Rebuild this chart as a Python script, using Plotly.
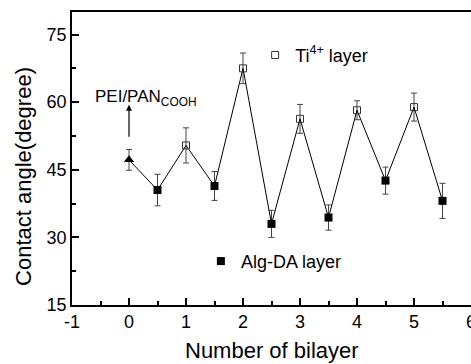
import plotly.graph_objects as go

# Data
x_base = [0.0]
y_base = [47.2]
e_base = [2.3]

x_ti = [1, 2, 3, 4, 5]
y_ti = [50.4, 67.5, 56.3, 58.2, 58.9]
e_ti = [3.9, 3.4, 3.2, 2.1, 3.1]

x_alg = [0.5, 1.5, 2.5, 3.5, 4.5, 5.5]
y_alg = [40.5, 41.4, 33.0, 34.4, 42.6, 38.1]
e_alg = [3.5, 3.2, 3.0, 2.8, 3.0, 3.9]

x_all = [0, 0.5, 1, 1.5, 2, 2.5, 3, 3.5, 4, 4.5, 5, 5.5]
y_all = [47.2, 40.5, 50.4, 41.4, 67.5, 33.0, 56.3, 34.4, 58.2, 42.6, 58.9, 38.1]
e_all = [2.3, 3.5, 3.9, 3.2, 3.4, 3.0, 3.2, 2.8, 2.1, 3.0, 3.1, 3.9]

x_ticks = [-1, 0, 1, 2, 3, 4, 5, 6]
y_ticks = [15, 30, 45, 60, 75]

FONT = "Arial, Liberation Sans, sans-serif"

fig = go.Figure()
fig.add_trace(go.Scatter(
    x=x_all, y=y_all, mode="lines", showlegend=False,
    line=dict(color="black", width=1),
    error_y=dict(type="data", array=e_all, visible=True, color="#444", thickness=1, width=3),
))
fig.add_trace(go.Scatter(
    x=x_base, y=y_base, mode="markers", showlegend=False,
    marker=dict(symbol="triangle-up", size=9, color="black"),
))
fig.add_trace(go.Scatter(
    x=x_ti, y=y_ti, mode="markers", name="Ti<sup>4+</sup> layer", legend="legend",
    marker=dict(symbol="square-open", size=7, color="#333", line=dict(width=1)),
))
fig.add_trace(go.Scatter(
    x=x_alg, y=y_alg, mode="markers", name="Alg-DA layer", legend="legend2",
    marker=dict(symbol="square", size=8, color="black"),
))

axis_common = dict(
    showgrid=False, zeroline=False, showline=True, linecolor="black", linewidth=1.5,
    mirror=True, ticks="inside", ticklen=7, tickwidth=1.5, tickcolor="black",
    tickfont=dict(family=FONT, size=18, color="black"),
)
fig.update_xaxes(range=[-1, 6], tickvals=x_ticks, ticktext=[str(v) for v in x_ticks],
                 ticklabeloverflow="allow",
                 minor=dict(ticks="inside", ticklen=4, tickwidth=1.5, tickcolor="black", dtick=0.5, tick0=-1),
                 **axis_common)
fig.update_yaxes(range=[15, 80], tickvals=y_ticks, ticktext=[str(v) for v in y_ticks],
                 minor=dict(ticks="inside", ticklen=4, tickwidth=1.5, tickcolor="black", dtick=7.5, tick0=15),
                 **axis_common)

fig.update_layout(
    width=471, height=364,
    margin=dict(l=72, r=0, t=12, b=59, autoexpand=False),
    plot_bgcolor="white", paper_bgcolor="white",
    font=dict(family=FONT, size=18, color="black"),
    legend=dict(x=0.459, y=0.9155, xanchor="left", yanchor="top", bgcolor="rgba(0,0,0,0)",
                font=dict(family=FONT, size=18, color="black")),
    legend2=dict(x=0.323, y=0.212, xanchor="left", yanchor="top", bgcolor="rgba(0,0,0,0)",
                 font=dict(family=FONT, size=18, color="black")),
    annotations=[
        dict(text="Number of bilayer", xref="paper", yref="paper", x=0.5, y=-0.155,
             xanchor="center", yanchor="middle", showarrow=False, font=dict(family=FONT, size=22)),
        dict(text="Contact angle(degree)", xref="paper", yref="paper", x=-(72 - 24) / 399, y=0.437,
             xanchor="center", yanchor="middle", textangle=-90, showarrow=False, font=dict(family=FONT, size=22)),
        dict(text="PEI/PAN<sub>COOH</sub>", xref="x", yref="y", x=-0.64, y=61.0,
             xanchor="left", yanchor="middle", showarrow=False, font=dict(family=FONT, size=17)),
        dict(text="", xref="x", yref="y", axref="x", ayref="y", x=0, y=59.4, ax=0, ay=52.0,
             showarrow=True, arrowhead=2, arrowsize=1, arrowwidth=1.2, arrowcolor="black"),
    ],
)

fig.write_html("out.html")
